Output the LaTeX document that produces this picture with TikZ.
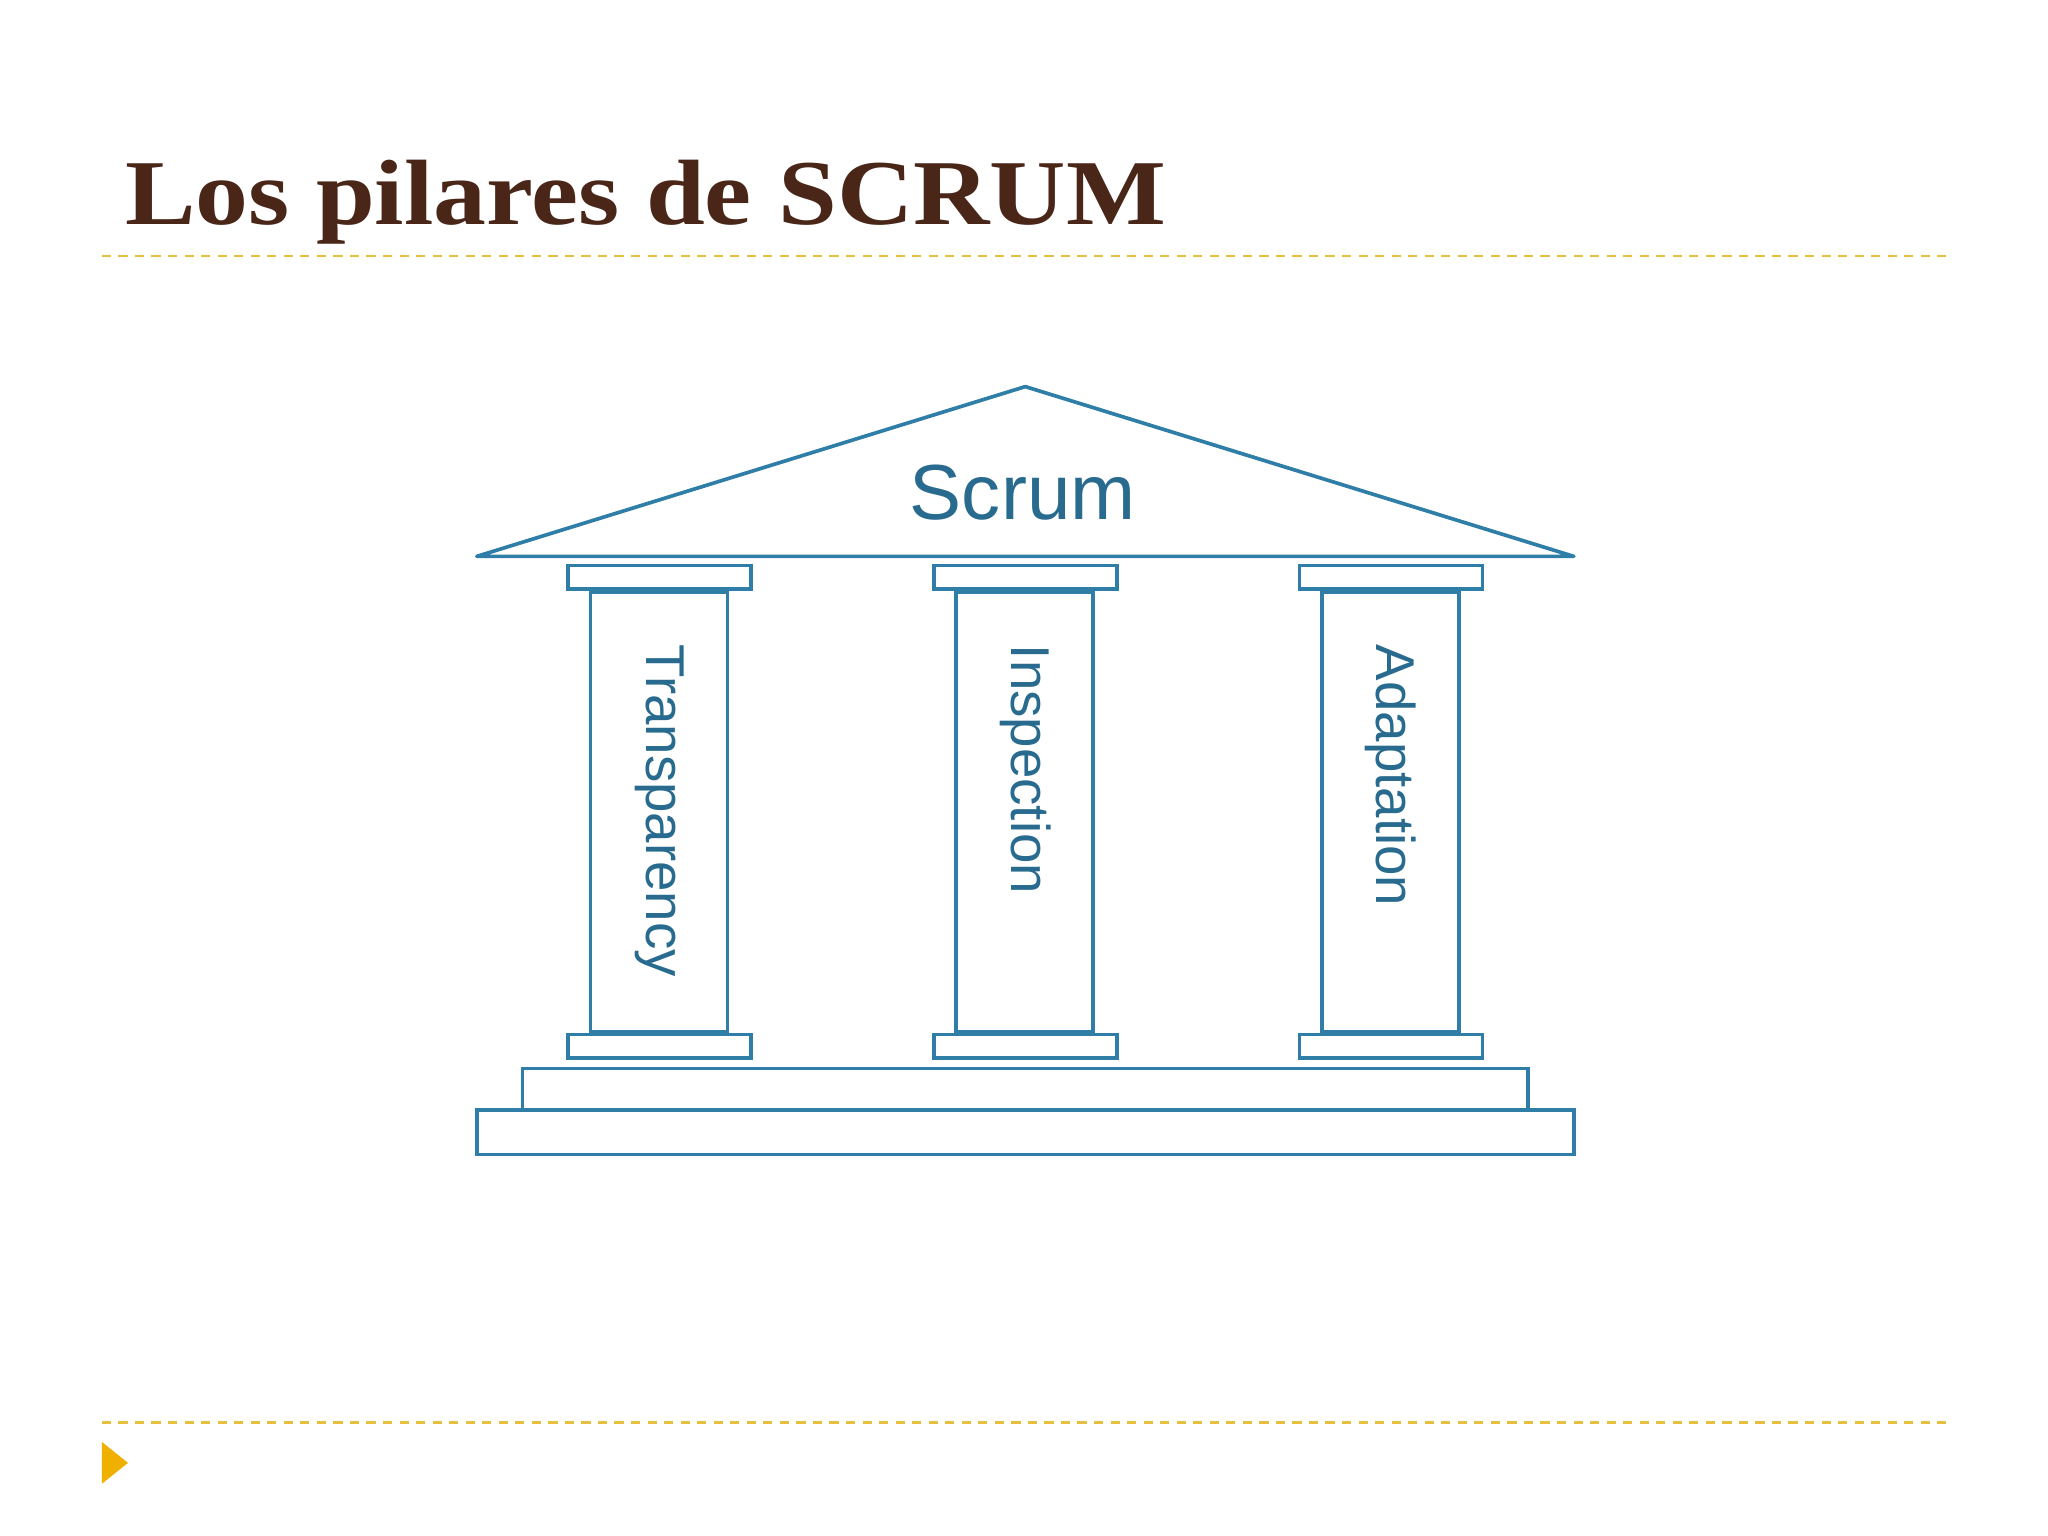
\documentclass[tikz,border=0pt]{standalone}
\usepackage{fontspec}
\setmainfont{Liberation Serif}
\newfontfamily\lsans{Liberation Sans}
\definecolor{brn}{HTML}{4A2618}
\definecolor{gld}{HTML}{E8C040}
\definecolor{org}{HTML}{F0B000}
\definecolor{tmp}{HTML}{2F7EA8}
\tikzset{ln/.style={draw=tmp,line width=0.8pt},
 gdash/.style={draw=gld,line width=0.5pt,dash pattern=on 2pt off 1.6pt},
 coltxt/.style={font=\lsans\fontsize{11.9}{14}\selectfont,text=tmp!85!black,rotate=-90,inner sep=0}}
\begin{document}
\begin{tikzpicture}[x=0.01cm,y=-0.01cm]
\useasboundingbox (0,0) rectangle (1568,1176);
\node[anchor=base west,inner sep=0,text=brn,xscale=1.14,font=\bfseries\fontsize{20.2}{24}\selectfont] (title) at (95,172) {Los pilares de SCRUM};
\draw[gdash] (78,196) -- (1490,196);
\draw[gdash] (78,1089) -- (1490,1089);
\fill[org] (78,1104) -- (98,1120) -- (78,1136) -- cycle;
\draw[ln,line join=round] (365,426) -- (785,296) -- (1205,426) -- cycle;
\node[font=\lsans\fontsize{17}{20}\selectfont,text=tmp!85!black] (scrum) at (783,377) {Scrum};
\foreach \c/\t in {505/Transparency,785/Inspection,1065/Adaptation}{
  \draw[ln] (\c-70,433) rectangle (\c+70,451);
  \draw[ln] (\c-53,453) rectangle (\c+52,790);
  \draw[ln] (\c-70,792) rectangle (\c+70,810);
  \node[coltxt,anchor=west] at (\c,493) {\t};
}
\draw[ln] (400,818) rectangle (1170,850);
\draw[ln] (365,850) rectangle (1205,884);
\end{tikzpicture}
\end{document}
